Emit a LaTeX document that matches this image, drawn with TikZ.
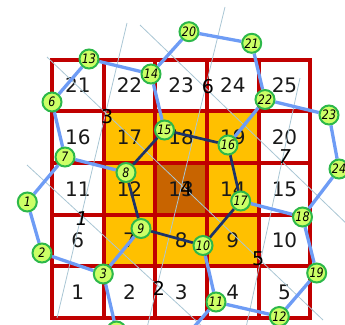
\documentclass[tikz,border=0pt]{standalone}
\usepackage{fontspec}
\setmainfont{DejaVu Sans}
\newfontfamily\nodefont{DejaVu Sans}[FakeStretch=0.85]
\definecolor{gridred}{HTML}{C00000}
\definecolor{ringorange}{HTML}{FFC000}
\definecolor{centerbrown}{HTML}{C86400}
\definecolor{nodefill}{HTML}{CCFF66}
\definecolor{nodeedge}{HTML}{2DB84A}
\definecolor{lightedge}{HTML}{6E9CF5}
\definecolor{darkedge}{HTML}{1C3369}
\definecolor{thinline}{HTML}{A9C6D4}
\pgfdeclarelayer{back}
\pgfdeclarelayer{mid}
\pgfsetlayers{back,mid,main}
\tikzset{
  cellnum/.style={font=\fontsize{20}{20}\selectfont, text=black!90, inner sep=0pt},
  vlab/.style={font=\fontsize{19}{19}\selectfont, text=black, inner sep=0pt},
  vlabit/.style={vlab, font=\itshape\fontsize{19}{19}\selectfont},
  gridline/.style={draw=gridred, line width=4pt},
  thin/.style={draw=thinline, line width=0.8pt},
  pnode/.style={circle, draw=nodeedge, line width=2pt, fill=nodefill, minimum size=19pt, inner sep=0pt,
    font=\nodefont\itshape\fontsize{13}{13}\selectfont},
  lb/.style={draw=lightedge, line width=3.3pt},
  db/.style={draw=darkedge, line width=2.7pt}
}
\begin{document}
\begin{tikzpicture}[x=1pt,y=-1pt]
\useasboundingbox (0,0) rectangle (345,324);
\clip (0,0) rectangle (345,324);
\def\gx{52}
\def\gy{59.7}
\def\cs{51.66}
% nodes (main layer)
\node[pnode] (n13) at (89,59) {13};
\node[pnode] (n14) at (151,74) {14};
\node[pnode] (n6) at (52,102) {6};
\node[pnode] (n15) at (164.5,130) {15};
\node[pnode] (n7) at (65,157) {7};
\node[pnode] (n8) at (126,172.5) {8};
\node[pnode] (n1) at (27.3,202) {1};
\node[pnode] (n2) at (42,253) {2};
\node[pnode] (n3) at (103.3,274) {3};
\node[pnode] (n9) at (141,228.5) {9};
\node[pnode] (n10) at (203,245.5) {10};
\node[pnode] (n11) at (216,302) {11};
\node[pnode] (n12) at (279.3,316.5) {12};
\node[pnode] (n19) at (316.7,273) {19};
\node[pnode] (n18) at (302.5,217) {18};
\node[pnode] (n17) at (240.7,201) {17};
\node[pnode] (n16) at (228,145) {16};
\node[pnode] (n22) at (265,99.5) {22};
\node[pnode] (n23) at (329,115) {23};
\node[pnode] (n24) at (339,169) {24};
\node[pnode] (n21) at (251.7,43.3) {21};
\node[pnode] (n20) at (189,31.7) {20};
\node[pnode] (nb) at (116.5,331) {};
\coordinate (off11) at (186,336);
\begin{pgfonlayer}{back}
  % fills
  \fill[ringorange] ({\gx+\cs},{\gy+\cs}) rectangle ({\gx+4*\cs},{\gy+4*\cs});
  \fill[centerbrown] ({\gx+2*\cs},{\gy+2*\cs}) rectangle ({\gx+3*\cs},{\gy+3*\cs});
  % cell numbers
  \foreach \r in {0,...,4}{
    \foreach \c in {0,...,4}{
      \pgfmathtruncatemacro\n{(4-\r)*5+\c+1}
      \node[cellnum] (c\n) at ({\gx+(\c+0.5)*\cs},{\gy+(\r+0.5)*\cs}) {\n};
    }
  }
  % grid
  \foreach \i in {1,...,4}{
    \draw[gridline] ({\gx+\i*\cs},\gy) -- ({\gx+\i*\cs},{\gy+5*\cs});
    \draw[gridline] (\gx,{\gy+\i*\cs}) -- ({\gx+5*\cs},{\gy+\i*\cs});
  }
  \draw[gridline, line join=miter] (\gx,\gy) rectangle ({\gx+5*\cs},{\gy+5*\cs});
  % thin lines
  \coordinate (la1) at (127,23);  \coordinate (la2) at (57,318);
  \coordinate (lb1) at (225,7);   \coordinate (lb2) at (146.5,330);
  \coordinate (lc1) at (300,78);  \coordinate (lc2) at (245.5,330);
  \coordinate (da1) at (140,25);  \coordinate (da2) at (350,227);
  \coordinate (db1) at (47,57);   \coordinate (db2) at (323,320);
  \coordinate (dc1) at (27,165);  \coordinate (dc2) at (205,329);
  \draw[thin] (la1) -- (la2);
  \draw[thin] (lb1) -- (lb2);
  \draw[thin] (lc1) -- (lc2);
  \draw[thin] (da1) -- (da2);
  \draw[thin] (db1) -- (db2);
  \draw[thin] (dc1) -- (dc2);
  % vertex labels
  \node[vlabit, xshift=0.5pt, yshift=-3pt] (v1) at (intersection of la1--la2 and dc1--dc2) {1};
  \node[vlab, xshift=1.5pt, yshift=-3pt] (v2) at (intersection of lb1--lb2 and dc1--dc2) {2};
  \node[vlab, xshift=1.5pt, yshift=-4pt] (v3) at (intersection of la1--la2 and db1--db2) {3};
  \node[vlab, xshift=4.5pt, yshift=-3.5pt] (v4) at (intersection of lb1--lb2 and db1--db2) {4};
  \node[vlab, xshift=-2.5pt, yshift=2pt] (v5) at (intersection of lc1--lc2 and db1--db2) {5};
  \node[vlab, xshift=2.5pt, yshift=1pt] (v6) at (intersection of lb1--lb2 and da1--da2) {6};
  \node[vlabit, xshift=3pt, yshift=5pt] (v7) at (intersection of lc1--lc2 and da1--da2) {7};
\end{pgfonlayer}
\begin{pgfonlayer}{mid}
  % outer light edges
  \draw[lb] (n13) -- (n14);
  \draw[lb] (n14) -- (n20);
  \draw[lb] (n20) -- (n21);
  \draw[lb] (n21) -- (n22);
  \draw[lb] (n22) -- (n23);
  \draw[lb] (n23) -- (n24);
  \draw[lb] (n24) -- (n18);
  \draw[lb] (n18) -- (n19);
  \draw[lb] (n19) -- (n12);
  \draw[lb] (n12) -- (n11);
  \draw[lb] (n11) -- (n10);
  \draw[lb] (n11) -- (off11);
  \draw[lb] (n3) -- (nb);
  \draw[lb] (n3) -- (n2);
  \draw[lb] (n2) -- (n1);
  \draw[lb] (n1) -- (n7);
  \draw[lb] (n7) -- (n6);
  \draw[lb] (n6) -- (n13);
  \draw[lb] (n7) -- (n8);
  \draw[lb] (n3) -- (n9);
  \draw[lb] (n14) -- (n15);
  \draw[lb] (n22) -- (n16);
  \draw[lb] (n17) -- (n18);
  % inner dark ring
  \draw[db] (n8) -- (n15);
  \draw[db] (n15) -- (n16);
  \draw[db] (n16) -- (n17);
  \draw[db] (n17) -- (n10);
  \draw[db] (n10) -- (n9);
  \draw[db] (n9) -- (n8);
\end{pgfonlayer}
\end{tikzpicture}
\end{document}
